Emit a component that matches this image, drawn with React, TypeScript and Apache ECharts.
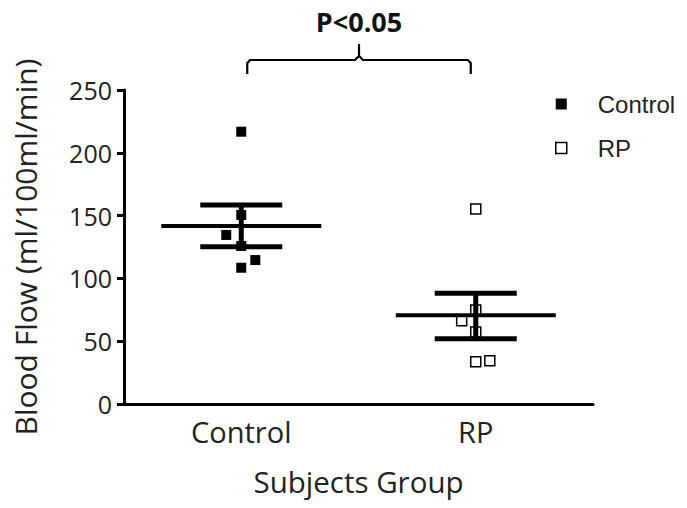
import React, { useEffect, useRef } from "react";
import * as echarts from "echarts";

const categories = ["Control", "RP"];
const controlValues = [216.8, 150.5, 134.6, 125.8, 114.6, 108.5];
const controlX = [1.0, 1.0, 0.936, 1.0, 1.06, 1.0];
const rpValues = [155.3, 74.8, 66.3, 57.3, 33.7, 34.5];
const rpX = [2.0, 2.0, 1.94, 2.0, 2.0, 2.06];
const groupX = [1, 2];
const means = [141.7, 70.6];
const semLow = [125.2, 52.0];
const semHigh = [158.4, 88.1];
const yTicks = { min: 0, max: 250, interval: 50 };
const pText = "P<0.05";

export default function App() {
  const ref = useRef<HTMLDivElement>(null);
  useEffect(() => {
    if (!ref.current) return;
    const chart = echarts.init(ref.current, null, { renderer: "svg" });
    const font = "Open Sans";
    const option: any = {
      animation: false,
      backgroundColor: "#fff",
      grid: { left: 124, right: 94, top: 90, bottom: 104 },
      legend: {
        orient: "vertical",
        left: 550,
        top: 86,
        itemWidth: 11,
        itemHeight: 11,
        itemGap: 18,
        textStyle: {
          fontFamily: "Liberation Sans",
          fontSize: 24,
          lineHeight: 26,
          color: "#222",
          padding: [0, 0, 0, 26],
        },
        data: [
          { name: "Control", icon: "rect", itemStyle: { color: "#000", opacity: 1 } },
          { name: "RP", icon: "rect", itemStyle: { color: "#fff", borderColor: "#000", borderWidth: 1.5, opacity: 1 } },
        ],
      },
      xAxis: [
        {
          type: "category",
          data: categories,
          boundaryGap: true,
          axisLine: { lineStyle: { color: "#000", width: 3 } },
          axisTick: { alignWithLabel: true, length: 8, lineStyle: { color: "#000", width: 3 } },
          axisLabel: { fontFamily: font, fontSize: 29, color: "#222", margin: 13 },
          splitLine: { show: false },
          name: "Subjects Group",
          nameLocation: "middle",
          nameGap: 62,
          nameTextStyle: { fontFamily: font, fontSize: 29.5, color: "#222" },
        },
        {
          type: "value",
          min: 0.5,
          max: 2.5,
          show: false,
          splitLine: { show: false },
        },
      ],
      yAxis: {
        type: "value",
        min: yTicks.min,
        max: yTicks.max,
        interval: yTicks.interval,
        axisLine: { show: true, lineStyle: { color: "#000", width: 3 } },
        axisTick: { show: true, length: 7, lineStyle: { color: "#000", width: 3 } },
        axisLabel: { fontFamily: font, fontSize: 25, color: "#222", margin: 12 },
        splitLine: { show: false },
        name: "Blood Flow (ml/100ml/min)",
        nameLocation: "middle",
        nameGap: 84,
        nameTextStyle: { fontFamily: font, fontSize: 30, color: "#222" },
      },
      series: [
        {
          name: "Control",
          type: "scatter",
          xAxisIndex: 1,
          symbol: "rect",
          symbolSize: 10,
          itemStyle: { color: "#000", opacity: 1 },
          data: controlValues.map((v, i) => [controlX[i], v]),
          z: 2,
        },
        {
          name: "RP",
          type: "scatter",
          xAxisIndex: 1,
          symbol: "rect",
          symbolSize: 10,
          itemStyle: { color: "#fff", borderColor: "#000", borderWidth: 1.5, opacity: 1 },
          data: rpValues.map((v, i) => [rpX[i], v]),
          z: 2,
        },
        {
          name: "errors",
          type: "custom",
          xAxisIndex: 1,
          z: 3,
          encode: { x: 0, y: 1 },
          data: groupX.map((x, i) => [x, means[i], semLow[i], semHigh[i]]),
          renderItem: (params: any, api: any) => {
            const x = api.value(0);
            const c = api.coord([x, api.value(1)]);
            const l = api.coord([x, api.value(2)]);
            const h = api.coord([x, api.value(3)]);
            const s = { stroke: "#000", lineWidth: 5 };
            return {
              type: "group",
              children: [
                { type: "line", shape: { x1: c[0] - 80, y1: c[1], x2: c[0] + 80, y2: c[1] }, style: { stroke: "#000", lineWidth: 4 } },
                { type: "line", shape: { x1: h[0], y1: h[1], x2: l[0], y2: l[1] }, style: s },
                { type: "line", shape: { x1: h[0] - 41, y1: h[1], x2: h[0] + 41, y2: h[1] }, style: s },
                { type: "line", shape: { x1: l[0] - 41, y1: l[1], x2: l[0] + 41, y2: l[1] }, style: s },
              ],
            };
          },
        },
      ],
    };
    chart.setOption(option);

    const p1 = chart.convertToPixel({ xAxisIndex: 1, yAxisIndex: 0 }, [groupX[0], yTicks.max]) as number[];
    const p2 = chart.convertToPixel({ xAxisIndex: 1, yAxisIndex: 0 }, [groupX[1], yTicks.max]) as number[];
    const xl = p1[0] + 6;
    const xr = p2[0] - 5;
    const yb = p1[1] - 30;
    const xm = (xl + xr) / 2;
    const bs = { stroke: "#000", lineWidth: 2.2, fill: null };
    chart.setOption({
      graphic: [
        { type: "polyline", shape: { points: [[xl, yb + 14], [xl, yb + 3], [xl + 3, yb], [xm - 4, yb], [xm, yb - 4], [xm, yb - 16]] }, style: bs },
        { type: "polyline", shape: { points: [[xr, yb + 14], [xr, yb + 3], [xr - 3, yb], [xm + 4, yb], [xm, yb - 4]] }, style: bs },
        {
          type: "text",
          x: xm,
          y: 21,
          style: {
            text: pText,
            font: "bold 27px 'Open Sans'",
            fill: "#111",
            textAlign: "center",
            textVerticalAlign: "middle",
          },
        },
      ],
    });
    return () => chart.dispose();
  }, []);
  return <div ref={ref} style={{ width: 687, height: 508, position: "fixed", left: 0, top: 0 }} />;
}
